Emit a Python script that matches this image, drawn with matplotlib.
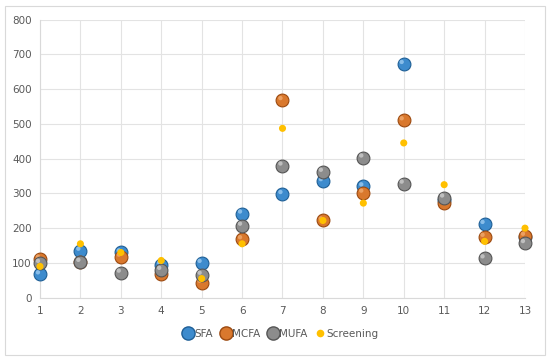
import matplotlib
matplotlib.use("Agg")
import matplotlib.pyplot as plt
import matplotlib.transforms as mtransforms
from matplotlib.patches import Rectangle
from matplotlib.lines import Line2D

x = [1, 2, 3, 4, 5, 6, 7, 8, 9, 10, 11, 12, 13]
sfa = [67, 135, 130, 95, 100, 242, 298, 335, 320, 672, 280, 212, 175]
mcfa = [112, 104, 118, 68, 43, 168, 568, 222, 302, 510, 272, 175, 178]
mufa = [100, 103, 72, 80, 66, 207, 380, 362, 403, 328, 288, 113, 157]
screening = [90, 155, 130, 107, 55, 155, 487, 222, 272, 445, 325, 162, 200]

series = [
    ("SFA", sfa, "#3d8bcd", "#1f5f96", "#a9d3f5"),
    ("MCFA", mcfa, "#d9782d", "#9c4a10", "#f3b27a"),
    ("MUFA", mufa, "#8c8c8c", "#555555", "#d6d6d6"),
]

fig = plt.figure(figsize=(5.5, 3.61), dpi=100)
fig.patches.append(Rectangle((5/550, 6/361), 540/550, 349/361, transform=fig.transFigure,
                             fill=False, edgecolor="#d9d9d9", linewidth=0.8))
ax = fig.add_axes([40/550, 1 - 297.7/361, 485/550, (297.7 - 19.5)/361])
ax.set_xlim(1, 13)
ax.set_ylim(0, 800)
ax.set_xticks(x)
ax.set_yticks(range(0, 801, 100))
ax.grid(True, color="#e3e3e3", linewidth=0.8)
ax.set_axisbelow(True)
for s in ["top", "right"]:
    ax.spines[s].set_visible(False)
for s in ["left", "bottom"]:
    ax.spines[s].set_color("#d9d9d9")
ax.tick_params(length=0, labelsize=7.5, labelcolor="#595959", pad=6)

hl = mtransforms.ScaledTranslation(-1.5/72, 1.5/72, fig.dpi_scale_trans)
handles = []
for name, vals, c, ec, hc in series:
    ax.scatter(x, vals, s=85, color=c, edgecolors=ec, linewidths=0.8, zorder=3, clip_on=False)
    ax.scatter(x, vals, s=10, color=hc, edgecolors="none", alpha=0.7, zorder=3,
               transform=ax.transData + hl, clip_on=False)
    handles.append(Line2D([], [], marker="o", linestyle="none", markersize=9.5,
                          markerfacecolor=c, markeredgecolor=ec, label=name))
ax.scatter(x, screening, s=26, color="#ffc000", edgecolors="none", zorder=4, clip_on=False)
handles.append(Line2D([], [], marker="o", linestyle="none", markersize=5.5,
                      markerfacecolor="#ffc000", markeredgecolor="none", label="Screening"))

fig.legend(handles=handles, loc="center", bbox_to_anchor=(280/550, 1 - 334/361), ncol=4,
           frameon=False, fontsize=7.5, labelcolor="#595959", handletextpad=0.0,
           columnspacing=0.6, handlelength=1.2)

fig.savefig("out.png", dpi=100)
